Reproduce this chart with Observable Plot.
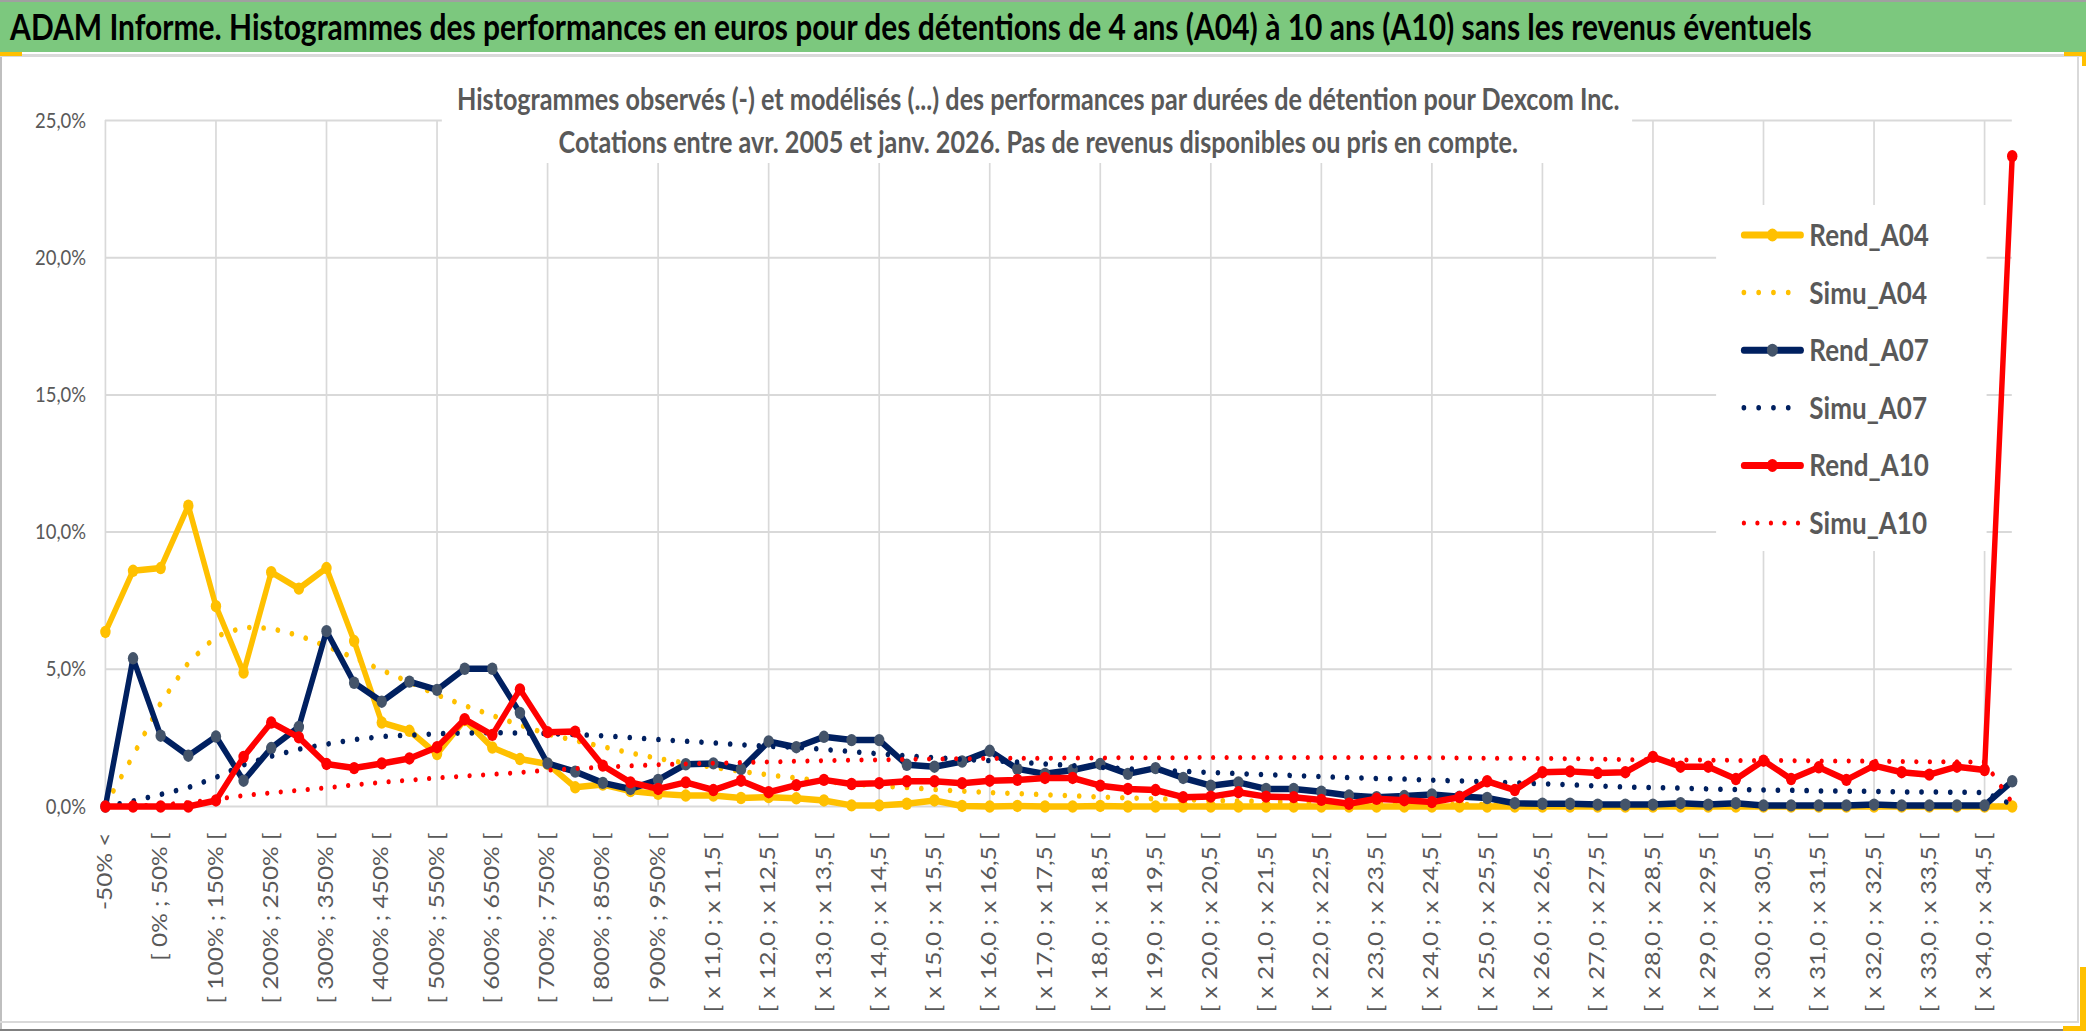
<!DOCTYPE html>
<html><head><meta charset="utf-8">
<script src="https://cdn.jsdelivr.net/npm/d3@7"></script>
<script src="https://cdn.jsdelivr.net/npm/@observablehq/plot@0.6"></script>
<style>
html,body{margin:0;padding:0;background:#fff;}
#page{position:relative;width:2086px;height:1033px;overflow:hidden;background:#fff;}
.b{position:absolute;}
#sq{position:absolute;left:0;top:0;width:2484px;height:1033px;transform:scaleX(0.84);transform-origin:0 0;}
#chart{position:absolute;left:0;top:60px;}
#over{position:absolute;left:0;top:0;}
</style></head>
<body>
<div id="page">
  <div class="b" style="left:0;top:0;width:2086px;height:2px;background:#a0a0a0"></div>
  <div class="b" style="left:0;top:2px;width:2086px;height:50px;background:#7cc87e"></div>
  <div class="b" style="left:0;top:54px;width:2086px;height:3px;background:#d9d9d9"></div>
  <div class="b" style="left:0;top:52px;width:22px;height:4px;background:#ffc000"></div>
  <div class="b" style="left:2064px;top:52px;width:22px;height:4px;background:#ffc000"></div>
  <div class="b" style="left:2082px;top:52px;width:4px;height:14px;background:#ffc000"></div>
  <div class="b" style="left:0;top:57px;width:2px;height:973px;background:#bfbfbf"></div>
  <div class="b" style="left:2077px;top:57px;width:2px;height:966px;background:#d9d9d9"></div>
  <div class="b" style="left:0;top:1021px;width:2079px;height:2px;background:#d9d9d9"></div>
  <div class="b" style="left:0;top:1029px;width:2086px;height:2px;background:#808080"></div>
  <div class="b" style="left:2080px;top:967px;width:6px;height:64px;background:#ffc000"></div>
  <div class="b" style="left:2063px;top:1026px;width:23px;height:5px;background:#ffc000"></div>
  <div id="sq">
    <div id="chart"></div>
    <svg id="over" width="2484" height="1033"></svg>
  </div>
</div>
<script>
const categories = [
  "-50% <", "[ -50% ; 0% [", "[ 0% ; 50% [", "[ 50% ; 100% [", "[ 100% ; 150% [", "[ 150% ; 200% [",
  "[ 200% ; 250% [", "[ 250% ; 300% [", "[ 300% ; 350% [", "[ 350% ; 400% [", "[ 400% ; 450% [",
  "[ 450% ; 500% [", "[ 500% ; 550% [", "[ 550% ; 600% [", "[ 600% ; 650% [", "[ 650% ; 700% [",
  "[ 700% ; 750% [", "[ 750% ; 800% [", "[ 800% ; 850% [", "[ 850% ; 900% [", "[ 900% ; 950% [",
  "[ 950% ; 1000% [",
  "[ x 11,0 ; x 11,5 [", "[ x 11,5 ; x 12,0 [", "[ x 12,0 ; x 12,5 [", "[ x 12,5 ; x 13,0 [",
  "[ x 13,0 ; x 13,5 [", "[ x 13,5 ; x 14,0 [", "[ x 14,0 ; x 14,5 [", "[ x 14,5 ; x 15,0 [",
  "[ x 15,0 ; x 15,5 [", "[ x 15,5 ; x 16,0 [", "[ x 16,0 ; x 16,5 [", "[ x 16,5 ; x 17,0 [",
  "[ x 17,0 ; x 17,5 [", "[ x 17,5 ; x 18,0 [", "[ x 18,0 ; x 18,5 [", "[ x 18,5 ; x 19,0 [",
  "[ x 19,0 ; x 19,5 [", "[ x 19,5 ; x 20,0 [", "[ x 20,0 ; x 20,5 [", "[ x 20,5 ; x 21,0 [",
  "[ x 21,0 ; x 21,5 [", "[ x 21,5 ; x 22,0 [", "[ x 22,0 ; x 22,5 [", "[ x 22,5 ; x 23,0 [",
  "[ x 23,0 ; x 23,5 [", "[ x 23,5 ; x 24,0 [", "[ x 24,0 ; x 24,5 [", "[ x 24,5 ; x 25,0 [",
  "[ x 25,0 ; x 25,5 [", "[ x 25,5 ; x 26,0 [", "[ x 26,0 ; x 26,5 [", "[ x 26,5 ; x 27,0 [",
  "[ x 27,0 ; x 27,5 [", "[ x 27,5 ; x 28,0 [", "[ x 28,0 ; x 28,5 [", "[ x 28,5 ; x 29,0 [",
  "[ x 29,0 ; x 29,5 [", "[ x 29,5 ; x 30,0 [", "[ x 30,0 ; x 30,5 [", "[ x 30,5 ; x 31,0 [",
  "[ x 31,0 ; x 31,5 [", "[ x 31,5 ; x 32,0 [", "[ x 32,0 ; x 32,5 [", "[ x 32,5 ; x 33,0 [",
  "[ x 33,0 ; x 33,5 [", "[ x 33,5 ; x 34,0 [", "[ x 34,0 ; x 34,5 [", "x 34,5 <"
];

// values in percent
const rendA04 = [6.36, 8.59, 8.69, 10.96, 7.30, 4.88, 8.54, 7.94, 8.69, 6.03,
  3.06, 2.76, 1.91, 3.15, 2.15, 1.73, 1.55, 0.70, 0.80, 0.56,
  0.46, 0.40, 0.40, 0.31, 0.34, 0.30, 0.22, 0.04, 0.04, 0.10,
  0.22, 0.02, 0.00, 0.02, 0.00, 0.00, 0.02, 0.00, 0.00, 0.00,
  0.00, 0.00, 0.00, 0.00, 0.00, 0.00, 0.00, 0.00, 0.00, 0.00,
  0.00, 0.00, 0.00, 0.00, 0.00, 0.00, 0.00, 0.00, 0.00, 0.00,
  0.00, 0.00, 0.00, 0.00, 0.00, 0.00, 0.00, 0.00, 0.00, 0.00];
const simuA04 = [0.05, 1.85, 3.77, 5.24, 6.20, 6.53, 6.49, 6.23, 5.84, 5.42,
  4.97, 4.53, 4.07, 3.68, 3.32, 2.97, 2.64, 2.40, 2.18, 1.95,
  1.75, 1.58, 1.43, 1.28, 1.15, 1.04, 0.92, 0.82, 0.75, 0.69,
  0.62, 0.56, 0.51, 0.47, 0.43, 0.39, 0.35, 0.31, 0.28, 0.25,
  0.22, 0.20, 0.18, 0.16, 0.14, 0.12, 0.11, 0.10, 0.09, 0.08,
  0.07, 0.06, 0.06, 0.05, 0.05, 0.04, 0.04, 0.03, 0.03, 0.03,
  0.02, 0.02, 0.02, 0.02, 0.01, 0.01, 0.01, 0.01, 0.01, 0.00];
const rendA07 = [0.00, 5.40, 2.58, 1.85, 2.55, 0.94, 2.13, 2.90, 6.39, 4.51,
  3.82, 4.55, 4.25, 5.02, 5.02, 3.41, 1.57, 1.27, 0.86, 0.64,
  0.97, 1.54, 1.57, 1.36, 2.37, 2.16, 2.54, 2.42, 2.42, 1.52,
  1.45, 1.64, 2.03, 1.37, 1.19, 1.33, 1.55, 1.19, 1.40, 1.04,
  0.76, 0.88, 0.64, 0.64, 0.54, 0.40, 0.34, 0.38, 0.44, 0.36,
  0.31, 0.12, 0.10, 0.10, 0.07, 0.07, 0.07, 0.12, 0.07, 0.12,
  0.04, 0.04, 0.04, 0.04, 0.07, 0.04, 0.04, 0.04, 0.04, 0.92];
const simuA07 = [0.00, 0.20, 0.44, 0.69, 1.06, 1.52, 1.83, 2.09, 2.27, 2.44,
  2.55, 2.60, 2.65, 2.68, 2.69, 2.68, 2.66, 2.62, 2.58, 2.51,
  2.44, 2.38, 2.32, 2.25, 2.19, 2.16, 2.08, 2.00, 1.92, 1.85,
  1.78, 1.72, 1.67, 1.62, 1.55, 1.49, 1.43, 1.37, 1.32, 1.28,
  1.24, 1.20, 1.16, 1.13, 1.09, 1.05, 1.02, 1.00, 0.96, 0.93,
  0.90, 0.86, 0.83, 0.79, 0.75, 0.71, 0.69, 0.67, 0.64, 0.62,
  0.60, 0.59, 0.57, 0.56, 0.55, 0.53, 0.53, 0.52, 0.51, 0.07];
const rendA10 = [0.00, 0.00, 0.00, 0.00, 0.22, 1.81, 3.06, 2.52, 1.55, 1.40,
  1.57, 1.75, 2.16, 3.18, 2.61, 4.27, 2.71, 2.73, 1.49, 0.88,
  0.64, 0.88, 0.60, 0.94, 0.52, 0.78, 0.97, 0.82, 0.85, 0.92,
  0.92, 0.85, 0.94, 0.97, 1.04, 1.04, 0.76, 0.64, 0.60, 0.34,
  0.36, 0.52, 0.36, 0.34, 0.24, 0.10, 0.28, 0.23, 0.16, 0.34,
  0.92, 0.60, 1.25, 1.28, 1.22, 1.25, 1.81, 1.45, 1.45, 1.00,
  1.67, 1.00, 1.43, 0.97, 1.49, 1.25, 1.16, 1.45, 1.33, 23.70];
const simuA10 = [0.00, 0.02, 0.06, 0.14, 0.26, 0.40, 0.50, 0.59, 0.68, 0.79,
  0.88, 0.96, 1.04, 1.11, 1.17, 1.24, 1.32, 1.38, 1.43, 1.48,
  1.52, 1.55, 1.58, 1.60, 1.62, 1.65, 1.67, 1.69, 1.70, 1.72,
  1.73, 1.74, 1.75, 1.76, 1.76, 1.77, 1.77, 1.78, 1.78, 1.78,
  1.79, 1.79, 1.79, 1.79, 1.79, 1.79, 1.79, 1.79, 1.78, 1.77,
  1.76, 1.76, 1.75, 1.74, 1.73, 1.71, 1.70, 1.70, 1.69, 1.68,
  1.68, 1.67, 1.66, 1.66, 1.65, 1.64, 1.63, 1.63, 1.62, 0.13];

const yTicks = [0, 5, 10, 15, 20, 25];
const seriesNames = ["Rend_A04", "Simu_A04", "Rend_A07", "Simu_A07", "Rend_A10", "Simu_A10"];
const titleText = "ADAM Informe. Histogrammes des performances en euros pour des détentions de 4 ans (A04) à 10 ans (A10) sans les revenus éventuels";
const subLines = [
  "Histogrammes observés (-) et modélisés (...) des performances par durées de détention pour Dexcom Inc.",
  "Cotations entre avr. 2005 et janv. 2026. Pas de revenus disponibles ou pris en compte."
];

const YEL = "#ffc000", NAVY = "#002060", NAVYM = "#44546a", RED = "#ff0000";
const idx = d3.range(categories.length);
const fmt = d => d.toFixed(1).replace(".", ",") + "%";

function solid(vals, color, mcolor) {
  return [
    Plot.line(idx, {x: i => categories[i], y: i => vals[i], stroke: color, strokeWidth: 6.5, strokeLinejoin: "round", strokeLinecap: "round"}),
    Plot.dot(idx, {x: i => categories[i], y: i => vals[i], r: 6.2, fill: mcolor, stroke: null})
  ];
}
function dotted(vals, color, w, gap) {
  return Plot.line(idx, {x: i => categories[i], y: i => vals[i], stroke: color, strokeWidth: w,
    strokeDasharray: `0.1 ${gap}`, strokeLinecap: "round"});
}

const chart = Plot.plot({
  width: 2484, height: 968,
  marginLeft: 125, marginRight: 89, marginTop: 60, marginBottom: 222,
  style: {fontFamily: "Lato, 'Open Sans', sans-serif", background: "transparent", color: "#595959", overflow: "visible"},
  x: {type: "point", domain: categories, padding: 0, label: null},
  y: {domain: [0, 25], label: null},
  marks: [
    Plot.gridX(categories.filter((d, i) => i % 4 === 0), {stroke: "#d9d9d9", strokeOpacity: 1, strokeWidth: 2}),
    Plot.gridY(yTicks, {stroke: "#d9d9d9", strokeOpacity: 1, strokeWidth: 2}),
    Plot.axisY(yTicks, {tickSize: 0, tickPadding: 23, tickFormat: fmt, fontSize: 22, label: null}),
    Plot.axisX(categories.filter((d, i) => i % 2 === 0), {tickSize: 0, tickPadding: 26, tickRotate: -90, fontSize: 24.5, label: null}),
    ...solid(rendA04, YEL, YEL),
    dotted(simuA04, YEL, 5.5, 17),
    ...solid(rendA07, NAVY, NAVYM),
    dotted(simuA07, NAVY, 5.5, 17),
    ...solid(rendA10, RED, RED),
    dotted(simuA10, RED, 5, 16)
  ]
});
document.getElementById("chart").appendChild(chart);

// overlay: title, subtitle, legend
const svg = d3.select("#over");
svg.append("text").attr("x", 12).attr("y", 40)
  .attr("font-family", "Lato, sans-serif").attr("font-weight", 700).attr("font-size", 35.7)
  .attr("fill", "#000").text(titleText);

svg.append("rect").attr("x", 526).attr("y", 61).attr("width", 1417).attr("height", 102).attr("fill", "#fff");
subLines.forEach((t, i) => {
  svg.append("text").attr("x", 1236).attr("y", 110 + i * 43).attr("text-anchor", "middle")
    .attr("font-family", "Lato, sans-serif").attr("font-weight", 700).attr("font-size", 30)
    .attr("fill", "#595959").text(t);
});

const legendColors = [YEL, YEL, NAVY, NAVY, RED, RED];
const legendMarkers = [YEL, null, NAVYM, null, RED, null];
svg.append("rect").attr("x", 2043).attr("y", 205).attr("width", 322).attr("height", 346).attr("fill", "#fff");
seriesNames.forEach((name, i) => {
  const cy = 235 + i * 57.6;
  const g = svg.append("g");
  if (legendMarkers[i]) {
    g.append("line").attr("x1", 2076).attr("x2", 2144).attr("y1", cy).attr("y2", cy)
      .attr("stroke", legendColors[i]).attr("stroke-width", 7).attr("stroke-linecap", "round");
    g.append("circle").attr("cx", 2110).attr("cy", cy).attr("r", 6.5).attr("fill", legendMarkers[i]);
  } else {
    g.append("line").attr("x1", 2076).attr("x2", 2144).attr("y1", cy).attr("y2", cy)
      .attr("stroke", legendColors[i]).attr("stroke-width", i === 5 ? 5 : 5.5)
      .attr("stroke-linecap", "round").attr("stroke-dasharray", i === 5 ? "0.1 16" : "0.1 17.5");
  }
  g.append("text").attr("x", 2154).attr("y", cy + 11)
    .attr("font-family", "Lato, sans-serif").attr("font-weight", 700).attr("font-size", 31)
    .attr("fill", "#595959").text(name);
});
</script>
</body></html>
